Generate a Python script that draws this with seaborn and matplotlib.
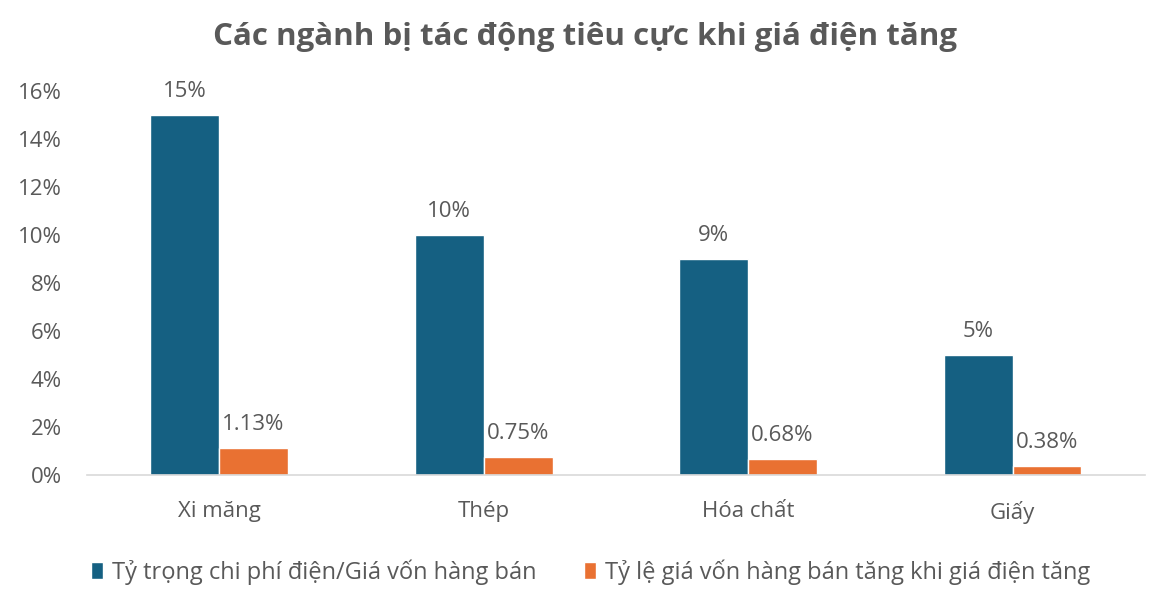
import pandas as pd
import matplotlib.pyplot as plt
import seaborn as sns
from matplotlib.ticker import PercentFormatter

# Data
nganh = ["Xi măng", "Thép", "Hóa chất", "Giấy"]
ty_trong = [0.15, 0.10, 0.09, 0.05]
ty_le_tang = [0.0113, 0.0075, 0.0068, 0.0038]
nhan_ty_trong = ["15%", "10%", "9%", "5%"]
nhan_ty_le = ["1.13%", "0.75%", "0.68%", "0.38%"]
series = ["Tỷ trọng chi phí điện/Giá vốn hàng bán",
          "Tỷ lệ giá vốn hàng bán tăng khi giá điện tăng"]

df = pd.DataFrame({
    "nganh": nganh * 2,
    "value": ty_trong + ty_le_tang,
    "series": [series[0]] * 4 + [series[1]] * 4,
})

sns.set_style("white")
plt.rcParams["font.family"] = ["Open Sans", "DejaVu Sans"]
text_gray = "#595959"

fig = plt.figure(figsize=(11.63, 6.02), dpi=100)
ax = fig.add_axes([0.0748, 0.211, 0.9097, 0.638])

sns.barplot(data=df, x="nganh", y="value", hue="series",
            palette=["#156082", "#E97132"], width=0.52,
            saturation=1, ax=ax, legend=True)

# Data labels
for cont, labels in zip(ax.containers, [nhan_ty_trong, nhan_ty_le]):
    ax.bar_label(cont, labels=labels, padding=9, fontsize=16,
                 color=text_gray, clip_on=False)

ax.set_ylim(0, 0.16)
ax.set_xlim(-0.5, 3.5)
ax.set_yticks([i / 100 for i in range(0, 17, 2)])
ax.yaxis.set_major_formatter(PercentFormatter(1.0, decimals=0))
ax.tick_params(axis="both", labelsize=16, labelcolor=text_gray, length=0)
ax.tick_params(axis="x", pad=19)
ax.tick_params(axis="y", pad=18)
ax.set_xlabel("")
ax.set_ylabel("")

for s in ["top", "right", "left"]:
    ax.spines[s].set_visible(False)
ax.spines["bottom"].set_color("#D9D9D9")
ax.spines["bottom"].set_linewidth(1.2)

fig.suptitle("Các ngành bị tác động tiêu cực khi giá điện tăng",
             x=0.503, y=0.963, fontsize=22.5, fontweight="bold", color=text_gray)

ax.legend(loc="center", bbox_to_anchor=(0.476, -0.252), ncol=2, frameon=False,
          fontsize=17, labelcolor=text_gray, handlelength=0.5,
          handleheight=0.7, handletextpad=0.4, columnspacing=2.0)

fig.savefig("out.png", dpi=100)
